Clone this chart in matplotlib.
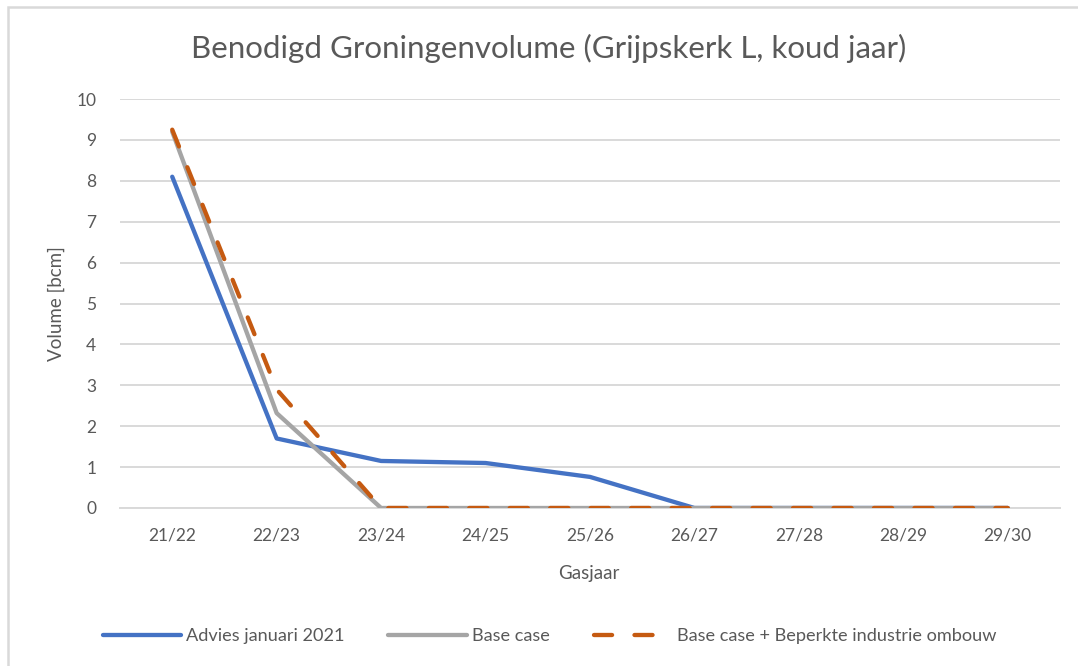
import matplotlib
matplotlib.use("Agg")
import matplotlib.pyplot as plt
from matplotlib.patches import Rectangle

categories = ["21/22", "22/23", "23/24", "24/25", "25/26", "26/27", "27/28", "28/29", "29/30"]
advies = [8.1, 1.7, 1.15, 1.1, 0.76, 0, 0, 0, 0]
base_case = [9.2, 2.32, 0, 0, 0, 0, 0, 0, 0]
base_beperkt = [9.25, 2.9, 0, 0, 0, 0, 0, 0, 0]
y_ticks = list(range(0, 11))

plt.rcParams['font.family'] = ['Lato', 'DejaVu Sans']

fig = plt.figure(figsize=(10.78, 6.66), dpi=100)
fig.patch.set_facecolor('white')
# chart border (clipped on right and bottom)
fig.add_artist(Rectangle((8/1078, -0.05), 1.2, 1 - 7.5/666 + 0.05, transform=fig.transFigure,
                         fill=False, edgecolor='#d9d9d9', linewidth=1.8))

ax = fig.add_axes([120/1078, 1 - 508/666, 940/1078, (508 - 99)/666])
x = list(range(len(categories)))
ax.plot(x, advies, color='#4472c4', linewidth=3.1, solid_capstyle='round', label='Advies januari 2021', zorder=3)
ax.plot(x, base_case, color='#a5a5a5', linewidth=3.1, solid_capstyle='round', label='Base case', zorder=4)
ax.plot(x, base_beperkt, color='#c55a11', linewidth=3.1, dashes=(4.2, 5.2), dash_capstyle='round',
        label='Base case + Beperkte industrie ombouw', zorder=5)

ax.set_xlim(-0.5, len(categories) - 0.5)
ax.set_ylim(0, 10)
ax.set_yticks(y_ticks)
ax.set_xticks(x)
ax.set_xticklabels(categories)
ax.grid(axis='y', color='#d9d9d9', linewidth=1.4)
ax.set_axisbelow(True)
for s in ['top', 'right', 'left']:
    ax.spines[s].set_visible(False)
ax.spines['bottom'].set_color('#d9d9d9')
ax.spines['bottom'].set_linewidth(1.4)
ax.tick_params(axis='both', length=0, labelsize=12.5, labelcolor='#595959')
ax.tick_params(axis='x', pad=14)
ax.tick_params(axis='y', pad=17)
ax.set_xlabel('Gasjaar', fontsize=13.5, color='#595959')
ax.set_ylabel('Volume [bcm]', fontsize=13.5, color='#595959')
ax.xaxis.set_label_coords(0.499, -0.159)
ax.yaxis.set_label_coords(-0.068, 0.5)
ax.xaxis.label.set_va('center')
ax.yaxis.label.set_va('center')

fig.text(0.509, 1 - 48/666, 'Benodigd Groningenvolume (Grijpskerk L, koud jaar)', ha='center', va='center',
         fontsize=22.5, color='#595959')

leg = fig.legend(loc='center', bbox_to_anchor=(0.51, 1 - 636/666), ncol=3, frameon=False,
                 fontsize=13.1, handlelength=4.3, handletextpad=0.3, columnspacing=2.4)
for t in leg.get_texts():
    t.set_color('#595959')

fig.savefig('out.png', dpi=100, facecolor='white')
